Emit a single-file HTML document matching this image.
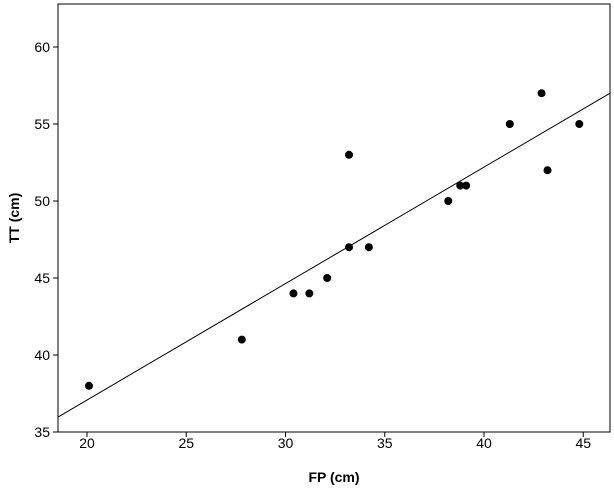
<!DOCTYPE html>
<html><head><meta charset="utf-8">
<style>
body{margin:0;background:#fff;}
svg{display:block;font-family:"Liberation Sans",Arial,sans-serif;}
</style></head>
<body>
<svg id="chart" width="614" height="488" viewBox="0 0 614 488">
<rect x="0" y="0" width="614" height="488" fill="#fff"/>
<g id="plot"></g>
</svg>
<script>
const xs = [20.1,27.8,30.4,31.2,32.1,33.2,33.2,34.2,38.2,38.8,39.1,41.3,42.9,43.2,44.8];
const ys = [38,41,44,44,45,53,47,47,50,51,51,55,57,52,55];
const xTicks = [20,25,30,35,40,45];
const yTicks = [35,40,45,50,55,60];
const fitLine = [[18.54,35.97],[46.35,57.0]];

const L=58,R=610,T=4,B=432;
const sx=v=>87+(v-20)*19.85;
const sy=v=>432-(v-35)*15.4;
const NS="http://www.w3.org/2000/svg";
const g=document.getElementById('plot');
function mk(tag,attrs){const e=document.createElementNS(NS,tag);for(const k in attrs)e.setAttribute(k,attrs[k]);g.appendChild(e);return e;}

const frame=mk('rect',{x:L,y:T,width:R-L,height:B-T,fill:'none',stroke:'#000','stroke-width':1});



xTicks.forEach(t=>{
  const x=sx(t);
  const l=mk('line',{x1:x,x2:x,y1:B,y2:B+5,stroke:'#000'});
  
  
  const tx=mk('text',{x:x,y:B+16,'text-anchor':'middle','font-size':14,fill:'#000'});
  tx.textContent=t;
  
  
});
yTicks.forEach(t=>{
  const y=sy(t);
  const l=mk('line',{x1:L-5,x2:L,y1:y,y2:y,stroke:'#000'});
  
  
  const tx=mk('text',{x:L-8,y:y+5,'text-anchor':'end','font-size':14,fill:'#000'});
  tx.textContent=t;
  
  
});

const fl=mk('line',{x1:sx(fitLine[0][0]),y1:sy(fitLine[0][1]),x2:sx(fitLine[1][0]),y2:sy(fitLine[1][1]),stroke:'#000','stroke-width':1});



xs.forEach((v,i)=>{
  const c=mk('circle',{cx:sx(v),cy:sy(ys[i]),r:4,fill:'#000'});
  
  
});

const xt=mk('text',{x:334,y:482,'text-anchor':'middle','font-size':14,'font-weight':'bold',fill:'#000'});
xt.textContent='FP (cm)';


const yt=mk('text',{x:0,y:0,'text-anchor':'middle','font-size':14,'font-weight':'bold',fill:'#000',transform:'translate(19,218) rotate(-90)'});
yt.textContent='TT (cm)';


</script>
</body></html>
